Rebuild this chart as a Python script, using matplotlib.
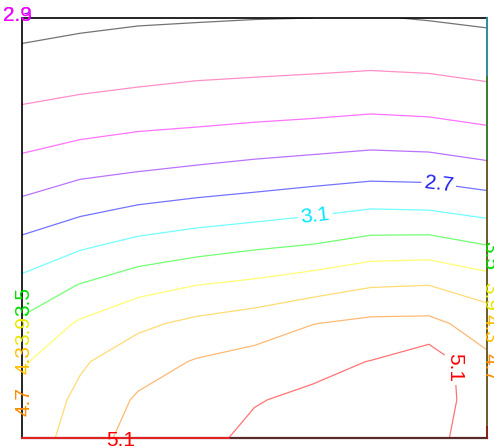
import numpy as np
import matplotlib
matplotlib.use("Agg")
import matplotlib.pyplot as plt

plt.rcParams['font.family'] = ['Liberation Sans', 'DejaVu Sans']

# grid coordinates (normalised domain)
x_vals = np.linspace(0.0, 1.0, 9)
y_vals = np.linspace(0.0, 1.0, 12)

# field values, one row per y (bottom row first)
z_rows = [
    [4.10, 4.45, 4.89, 5.00, 5.18, 5.28, 5.30, 5.22, 4.88],
    [3.99, 4.39, 4.75, 4.86, 5.08, 5.17, 5.21, 5.35, 4.83],
    [3.85, 4.25, 4.53, 4.73, 4.84, 5.00, 5.11, 5.35, 4.78],
    [3.57, 3.95, 4.22, 4.39, 4.51, 4.69, 4.79, 4.80, 4.52],
    [3.22, 3.52, 3.75, 3.90, 3.99, 4.12, 4.27, 4.30, 4.11],
    [2.83, 3.06, 3.24, 3.36, 3.46, 3.54, 3.68, 3.70, 3.53],
    [2.42, 2.61, 2.75, 2.84, 2.91, 3.00, 3.10, 3.08, 2.96],
    [2.05, 2.21, 2.29, 2.36, 2.43, 2.49, 2.55, 2.53, 2.42],
    [1.72, 1.83, 1.91, 1.95, 2.00, 2.04, 2.09, 2.06, 1.97],
    [1.42, 1.50, 1.55, 1.60, 1.63, 1.66, 1.70, 1.67, 1.60],
    [1.18, 1.25, 1.29, 1.32, 1.34, 1.36, 1.38, 1.36, 1.30],
    [0.94, 1.00, 1.05, 1.07, 1.09, 1.10, 1.12, 1.08, 1.03],
]

levels = [1.1, 1.5, 1.9, 2.3, 2.7, 3.1, 3.5, 3.9, 4.3, 4.7, 5.1]
level_colors = ['#000000', '#ff3399', '#ff00ff', '#8000ff', '#0000ff', '#00ffff',
                '#00ff00', '#ffff00', '#ffbf00', '#ff8000', '#ff0000']
label_colors = {1.1: '#555555', 1.5: '#ff3399', 1.9: '#ff00ff', 2.3: '#9900ff',
                2.7: '#2020ee', 2.9: '#ff00ff', 3.1: '#00e5ff', 3.5: '#00dd00',
                3.9: '#e8e800', 4.3: '#ffc000', 4.7: '#ff8c00', 5.1: '#ff0000'}

# where the interior curves carry their value
inline_label_pos = [(0.895, 0.595), (0.632, 0.519), (0.96, 0.17)]

# labels sitting on the frame
left_labels = [3.5, 3.9, 4.3, 4.7]
left_label_y = [0.324, 0.255, 0.186, 0.086]
right_labels = [3.5, 3.9, 4.3, 4.7]
right_label_y = [0.434, 0.336, 0.260, 0.169]
corner_labels = [2.3, 2.9]

Z = np.array(z_rows)
X, Y = np.meshgrid(x_vals, y_vals)

fig = plt.figure(figsize=(4.94, 4.46), dpi=100)
ax = fig.add_axes([22 / 494, 8 / 446, 465 / 494, 420 / 446])
ax.set_xlim(0, 1)
ax.set_ylim(0, 1)
ax.set_xticks([])
ax.set_yticks([])

cs = ax.contour(X, Y, Z, levels=levels, colors=level_colors,
                linewidths=0.9, alpha=0.55)

fs = 15
texts = ax.clabel(cs, manual=inline_label_pos, inline=True, fmt='%.1f', fontsize=fs,
                  colors=[label_colors[l] for l in levels], inline_spacing=3)
for t in texts:
    t.set_alpha(1.0)
    if t.get_text() == '%.1f' % levels[-1]:
        # the red curve runs almost vertically here
        t.set_rotation(-90)

# frame
for side in ('left', 'top'):
    ax.spines[side].set_color('black')
    ax.spines[side].set_linewidth(1.2)
ax.spines['bottom'].set_color('#5a2a2a')
ax.spines['bottom'].set_linewidth(1.6)
ax.spines['right'].set_visible(False)
for y0, y1, c in [(0.86, 1.0, '#2e8c96'), (0.66, 0.86, '#3a7a32'),
                  (0.026, 0.66, '#6b5a24'), (0.0, 0.026, '#8b1a1a')]:
    ax.axvline(1.0, ymin=y0, ymax=y1, color=c, lw=1.4, clip_on=False, zorder=5)

# highest level running along the bottom edge up to where the field reaches it
bottom = Z[0]
i = int(np.argmax(bottom >= levels[-1]))
x_cross = x_vals[i - 1] + (levels[-1] - bottom[i - 1]) / (bottom[i] - bottom[i - 1]) * (x_vals[i] - x_vals[i - 1])
ax.axhline(0.0, xmin=0.0, xmax=x_cross, color='#ff2020', lw=1.2, clip_on=False, zorder=6)
ax.text(0.212, -0.005, '%.1f' % levels[-1], color=label_colors[5.1], fontsize=fs,
        ha='center', va='center', clip_on=False, zorder=7)

for v, yy in zip(left_labels, left_label_y):
    ax.text(0.004, yy, '%.1f' % v, color=label_colors[v], fontsize=fs, rotation=90,
            ha='center', va='center', clip_on=False, zorder=7)
for v, yy in zip(right_labels, right_label_y):
    ax.text(1.006, yy, '%.1f' % v, color=label_colors[v], fontsize=fs, rotation=-90,
            ha='center', va='center', clip_on=False, zorder=7)
for v in corner_labels:
    ax.text(-0.009, 1.007, '%.1f' % v, color=label_colors[v], fontsize=fs,
            ha='center', va='center', clip_on=False, zorder=7)

fig.savefig('out.png', dpi=100)
